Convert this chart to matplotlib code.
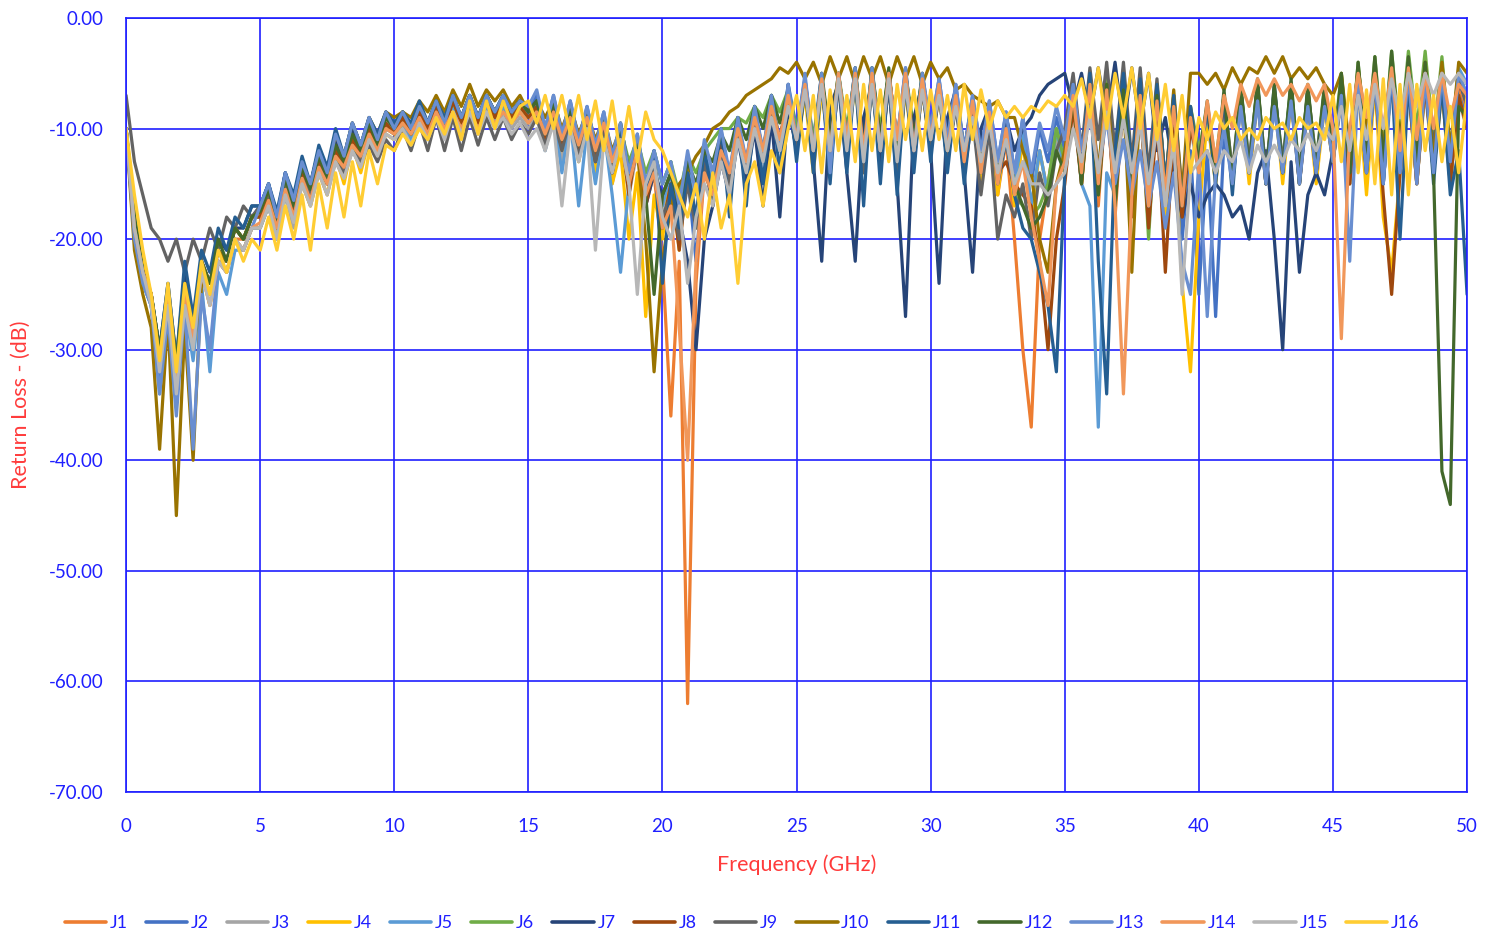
import numpy as np
import matplotlib
matplotlib.use("Agg")
import matplotlib.pyplot as plt
from matplotlib.ticker import FormatStrFormatter

plt.rcParams['font.family'] = ['Lato', 'DejaVu Sans']
plt.rcParams['axes.unicode_minus'] = False

# Return loss per port, sampled every 0.3125 GHz from 0 to 50 GHz (dB)
j1 = [-10, -19, -23, -25, -31, -25, -33, -24, -28, -23, -25, -22, -23, -20, -20, -18,
      -18, -16, -19, -15, -18, -14, -16, -13, -15, -12, -14, -11, -13, -10.5, -12, -10,
      -10.5, -9.5, -11, -9, -10.5, -8.5, -10, -8, -10, -8, -10, -8, -9.5, -8, -9.5, -8.5,
      -9.5, -8.5, -11, -8.5, -12, -8.5, -12.5, -9, -13, -10, -14, -11, -15, -12, -17, -14,
      -22, -36, -22, -62, -24, -14, -16, -12, -15, -10, -13, -8.5, -12, -7.5, -11, -7,
      -12, -6, -13, -5.5, -12, -6, -11, -5, -13, -5.5, -12, -5, -11, -5.5, -12, -6,
      -11, -6.5, -12, -7, -13, -8, -14, -9, -16, -11, -20, -30, -37, -20, -15, -10,
      -14, -7, -15, -6, -17, -6.5, -18, -7, -16, -7, -17, -6.5, -16, -8, -18, -9,
      -13, -8, -14, -7.5, -15, -7, -14, -6.5, -15, -7, -14, -6.5, -15, -7, -14, -7,
      -13, -7, -15, -6, -14, -5.5, -15, -5, -14, -5, -15, -5.5, -14, -5.5, -15, -6.5, -9]
j2 = [-10, -19, -24, -26, -33, -26, -35, -24, -30, -23, -25, -21, -22, -19, -20, -18,
      -17, -15, -18, -14, -17, -13, -15, -12, -14, -10.5, -12.5, -9.5, -11.5, -9, -11, -8.5,
      -10, -8.5, -10, -8, -9.5, -7.5, -9.5, -7, -9, -7, -9, -7, -8.5, -7, -8.5, -7.5,
      -8.5, -7, -10, -7, -10.5, -7.5, -11, -8, -11.5, -8.5, -13, -9.5, -14, -10.5, -15, -12,
      -15, -13, -20, -14, -22, -13, -17, -11, -15, -9, -14, -8, -13, -7, -12, -6,
      -10, -5.5, -11, -5, -13, -5, -11, -4.5, -13, -4.5, -12, -5, -11, -4.5, -12, -5,
      -10, -5.5, -11, -6, -12, -7, -12, -7.5, -13, -8.5, -14, -9, -15, -10, -13, -9,
      -12, -7, -13, -6, -14, -6, -15, -6.5, -14, -7, -15, -7.5, -17, -9, -20, -12,
      -25, -12, -27, -11, -14, -8, -13, -7.5, -14, -8, -13, -7.5, -14, -8, -13, -8,
      -12, -6.5, -14, -5.5, -13, -5.5, -14, -5, -13, -5, -14, -5.5, -13, -5.5, -14, -7, -9]
j3 = [-10, -19, -23, -26, -32, -26, -34, -25, -29, -23, -25, -22, -22, -20, -21, -19,
      -19, -17, -20, -16, -19, -15, -17, -14, -16, -13, -14.5, -12, -13.5, -11, -12.5, -10.5,
      -11, -10, -11.5, -9.5, -11, -9, -11, -8.5, -10.5, -8.5, -10.5, -8.5, -10, -8.5, -10, -9,
      -10, -9, -12, -9, -13, -9, -13, -9.5, -14, -10, -15, -11, -16, -12, -17, -13,
      -18, -15, -20, -14, -19, -13, -16, -12, -15, -10, -14, -9, -13, -8, -12, -7.5,
      -12, -6.5, -13, -6, -13, -6, -12, -5.5, -13, -6, -12, -5.5, -13, -6, -12, -6,
      -12, -7, -13, -7.5, -13, -8, -14, -9, -15, -10, -16, -11, -17, -12, -16, -11,
      -14, -8, -15, -7, -16, -7, -17, -7.5, -16, -8, -17, -8, -16, -9, -18, -10,
      -14, -9, -15, -8.5, -15, -8, -14, -7.5, -15, -8, -14, -7.5, -15, -8, -14, -8,
      -13, -7.5, -15, -6.5, -14, -6, -15, -6, -14, -6, -15, -6.5, -14, -6.5, -15, -7.5, -10]
j4 = [-10, -17, -22, -25, -30, -26, -33, -25, -29, -23, -26, -22, -23, -20, -21, -19,
      -19, -17, -20, -16, -18, -15, -17, -14, -16, -12.5, -15, -11.5, -14, -11, -12.5, -10.5,
      -11, -9.5, -11, -9, -10.5, -8.5, -10.5, -8, -10, -8, -10, -8, -9.5, -8, -9.5, -8.5,
      -9.5, -8.5, -11.5, -8.5, -12, -9, -13, -9, -14, -10, -15, -12, -20, -14, -27, -16,
      -20, -14, -21, -13, -19, -12, -16, -11, -15, -10, -13, -9, -12, -8, -11, -7.5,
      -12, -7, -14, -6.5, -13, -6, -12, -6, -14, -6, -13, -6, -14, -6.5, -13, -6.5,
      -12, -7, -13, -7.5, -14, -8, -15, -9, -16, -10, -17, -11, -18, -12, -16, -10,
      -14, -7, -15, -6.5, -16, -6, -17, -6.5, -16, -7, -18, -8, -19, -10, -24, -32,
      -18, -9, -15, -8, -14, -7.5, -15, -7, -14, -7, -15, -7.5, -14, -7.5, -15, -8,
      -13, -7, -15, -6, -16, -6, -18, -23, -14, -6, -15, -6, -14, -6.5, -15, -7, -10]
j5 = [-10, -20, -24, -26, -34, -27, -33, -26, -31, -24, -32, -23, -25, -21, -21, -19,
      -19, -17, -20, -16, -18, -14.5, -16.5, -13, -15, -12, -13.5, -11, -12.5, -10.5, -12, -10,
      -10.5, -9.5, -11, -9, -10.5, -8.5, -10, -8, -10, -8, -10, -8, -9.5, -8, -9.5, -8.5,
      -9.5, -8.5, -12, -8.5, -14, -9, -17, -10, -15, -10, -16, -23, -15, -11, -16, -13,
      -17, -14, -19, -13, -18, -12, -15, -11, -14, -9.5, -13, -8.5, -12, -7.5, -11, -7,
      -11, -6, -12, -5.5, -12, -5.5, -11, -5, -12, -5.5, -11, -5, -12, -5.5, -11, -5.5,
      -11, -6.5, -12, -7, -12, -8, -13, -8.5, -14, -9.5, -15, -10.5, -17, -12, -16, -10,
      -14, -7, -15, -17, -37, -14, -16, -6, -15, -6.5, -16, -7, -15, -7.5, -17, -8.5,
      -13, -8.5, -14, -8, -15, -7.5, -14, -7, -15, -7.5, -14, -7, -15, -7.5, -14, -7.5,
      -13, -6.5, -15, -6, -14, -5.5, -15, -5, -14, -5, -15, -5.5, -14, -5, -12, -4.5, -6]
j6 = [-10, -18, -23, -25, -30, -25, -32, -24, -29, -22, -24, -21, -22, -19, -20, -18,
      -18, -16, -19, -15, -17.5, -14, -16, -13, -14.5, -11.5, -13, -10.5, -12, -10, -11.5, -9.5,
      -10.5, -9, -10.5, -8.5, -10, -8, -10, -7.5, -9.5, -7.5, -9.5, -7.5, -9, -7.5, -9, -8,
      -9, -8, -11, -8, -11, -8, -12, -8.5, -12, -9, -13, -10, -13, -11, -14, -12,
      -15, -13, -16, -12.5, -14, -12, -11, -10, -10, -9, -9.5, -8, -9, -7, -8.5, -6.5,
      -10, -6, -11, -5.5, -11, -5, -10, -5, -11, -5, -10, -5, -11, -5, -10, -5.5,
      -10, -6, -11, -6.5, -12, -7.5, -13, -8.5, -14, -9.5, -16, -17, -18, -17, -15, -10,
      -13, -6.5, -14, -6, -15, -5.5, -16, -6, -15, -6.5, -20, -7, -16, -7.5, -17, -8,
      -12, -8, -13, -7, -14, -6.5, -13, -6, -14, -6.5, -13, -6, -14, -6.5, -13, -6,
      -12, -5, -13, -4, -12, -3.5, -12, -3, -11, -3, -10, -3, -11, -3.5, -12, -5, -7]
j7 = [-10, -19, -23, -25, -30, -24, -31, -23, -28, -22, -24, -20, -21, -19, -19, -17,
      -17, -15, -18, -14, -16.5, -13, -15, -12, -14, -11, -13, -10, -12, -9.5, -11, -9,
      -10, -8.5, -10, -8, -9.5, -7.5, -9.5, -7.5, -9, -7, -9, -7, -8.5, -7, -8.5, -7.5,
      -8.5, -7.5, -10.5, -7.5, -11, -8, -12, -8.5, -13, -9, -14, -10, -15, -12, -17, -14,
      -16, -14, -18, -22, -30, -20, -17, -13, -16, -11, -15, -10, -17, -9, -18, -8,
      -12, -6, -13, -22, -8, -6, -14, -22, -9, -6, -13, -6, -15, -27, -9, -6,
      -12, -24, -9, -6.5, -14, -23, -10, -8, -14, -9, -12, -10, -9, -7, -6, -5.5,
      -5, -8, -5, -9, -4.5, -9, -4, -10, -4.5, -10, -5, -12, -9, -14, -18, -15,
      -18, -16, -15, -16, -18, -17, -20, -14, -12, -20, -30, -13, -23, -16, -14, -16,
      -12, -6, -14, -5, -13, -4.5, -13, -4, -12, -4, -13, -4.5, -12, -4.5, -13, -5.5, -8]
j8 = [-10, -19, -23, -25, -31, -25, -32, -24, -29, -22, -24, -21, -22, -19, -20, -18,
      -18, -16, -19, -15, -17.5, -14, -16, -13, -15, -12, -13.5, -11, -12.5, -10, -12, -9.5,
      -10.5, -9, -10.5, -8.5, -10, -8, -10, -7.5, -9.5, -7.5, -9.5, -7.5, -9, -7.5, -9, -8,
      -9, -8, -11, -8, -11.5, -8, -12, -8.5, -12.5, -9, -14, -10, -16, -11, -17, -13,
      -19, -15, -21, -14, -18, -13, -16, -11, -15, -10, -13, -9, -12, -8, -11, -7,
      -11, -6, -12, -5.5, -12, -5.5, -11, -5, -13, -5, -11, -5, -12, -5, -11, -5.5,
      -11, -6, -12, -7, -12, -7.5, -13, -8.5, -14, -13, -15, -16, -17, -22, -30, -20,
      -15, -8, -15, -7, -16, -7, -17, -7.5, -18, -8, -19, -9, -23, -10, -18, -10,
      -13, -8, -14, -7.5, -15, -7, -14, -7, -15, -7, -14, -7, -15, -7.5, -14, -7.5,
      -13, -7, -15, -6, -14, -5.5, -16, -25, -14, -6, -15, -6, -14, -6, -15, -7, -10]
j9 = [-7, -13, -16, -19, -20, -22, -20, -23, -20, -22, -19, -21, -18, -19, -17, -18,
      -17, -16, -18, -15, -17, -14.5, -16, -13.5, -15, -13, -14, -12, -13, -11.5, -13, -11,
      -12, -10, -12, -9.5, -12, -9, -12, -9, -12, -9, -11.5, -9, -11, -9, -11, -9.5,
      -10.5, -9, -11.5, -9, -12, -9, -12.5, -9.5, -13, -10, -14, -10.5, -15, -11, -16, -13,
      -18, -16, -20, -15, -19, -13, -17, -12, -15, -10, -14, -9, -12, -8, -11, -7.5,
      -12, -6.5, -12, -6, -13, -6, -12, -5.5, -14, -6, -12, -6, -14, -6, -13, -6.5,
      -12, -7, -13, -8, -14, -9, -16, -10, -20, -16, -18, -15, -20, -14, -17, -12,
      -10, -5, -12, -4.5, -11, -4, -12, -4, -13, -4.5, -14, -5.5, -15, -7, -16, -8,
      -13, -8, -14, -7, -14, -6.5, -13, -6, -14, -6.5, -13, -6.5, -14, -6.5, -13, -6.5,
      -12, -6, -13, -5, -13, -4.5, -13, -4, -12, -4, -12, -4.5, -12, -4.5, -13, -5.5, -8]
j10 = [-10, -21, -25, -28, -39, -27, -45, -28, -40, -24, -24, -21, -22, -19, -20, -18,
       -17.5, -15.5, -18, -14.5, -16.5, -13, -15, -12, -14, -10.5, -12.5, -9.5, -11.5, -9, -10.5, -8.5,
       -9, -8.5, -9, -7.5, -8.5, -7, -8.5, -6.5, -8, -6, -8, -6.5, -7.5, -6.5, -8, -7,
       -8.5, -7.5, -9, -7.5, -10, -8, -10.5, -8.5, -11, -9, -12, -10, -14, -12, -20, -32,
       -22, -17, -15, -14, -12.5, -11.5, -10, -9.5, -8.5, -8, -7, -6.5, -6, -5.5, -4.5, -5,
       -4, -5.5, -4, -6, -3.5, -5.5, -3.5, -6, -3.5, -5.5, -3.5, -6, -3.5, -5.5, -3.5, -6,
       -4, -5.5, -4.5, -6.5, -6, -7, -7.5, -8, -7.5, -9, -9, -12, -14, -20, -23, -15,
       -12, -7, -13, -6.5, -14, -6, -15, -7, -23, -7, -17, -6, -15, -6.5, -16, -5,
       -5, -6, -5, -6.5, -4.5, -6, -4.5, -5, -3.5, -5, -3.5, -5.5, -4.5, -5.5, -4.5, -6,
       -7, -5, -12, -4.5, -10, -5, -12, -4.5, -11, -4.5, -12, -4, -13, -4, -12, -4, -5]
j11 = [-10, -18, -23, -25, -30, -24, -31, -22, -27, -21, -23, -19, -21, -18, -19, -17,
       -17, -15, -17.5, -14, -16, -12.5, -15, -11.5, -13.5, -10, -12.5, -9.5, -11.5, -9, -10.5, -8.5,
       -9.5, -8.5, -9.5, -7.5, -9.5, -7.5, -9, -7, -9, -7, -9, -7, -8.5, -7, -8.5, -7.5,
       -8.5, -7.5, -10.5, -7.5, -11, -8, -11.5, -8.5, -12, -9, -13, -10, -14, -11, -16, -12,
       -24, -15, -19, -14, -18, -12, -16, -10, -18, -9, -17, -8, -15, -7, -14, -6,
       -13, -6, -14, -5.5, -15, -5, -14, -5, -17, -5, -15, -5, -16, -5.5, -14, -5.5,
       -13, -6, -14, -7, -15, -8, -14, -9, -15, -11, -16, -19, -20, -23, -26, -32,
       -14, -6, -13, -5, -22, -34, -12, -5, -14, -5.5, -16, -6, -15, -7, -17, -8,
       -14, -8, -15, -7, -16, -6.5, -14, -6, -15, -6, -14, -6, -15, -6.5, -14, -6.5,
       -13, -6, -14, -5, -14, -5, -15, -5, -20, -6, -14, -5, -15, -6, -16, -12, -25]
j12 = [-10, -18, -23, -25, -30, -25, -31, -24, -28, -22, -24, -20, -22, -19, -20, -18,
       -17.5, -15.5, -18.5, -14.5, -17, -13.5, -15.5, -12.5, -14.5, -11.5, -13, -10.5, -12, -9.5, -11.5, -9,
       -10, -8.5, -10, -8, -9.5, -7.5, -9.5, -7, -9, -7, -9, -7, -8.5, -7, -8.5, -7.5,
       -8.5, -7.5, -10.5, -7.5, -11, -8, -11.5, -8.5, -12, -9, -13, -9.5, -14, -11, -16, -25,
       -16, -14, -17, -13, -15, -12, -13, -10.5, -12, -9, -11, -8, -10, -7, -9.5, -6.5,
       -11, -5.5, -12, -5, -11, -5, -11, -4.5, -12, -4.5, -11, -4.5, -12, -5, -11, -5,
       -11, -6, -12, -6.5, -12, -7.5, -13, -8.5, -14, -10, -15, -17, -19, -18, -16, -12,
       -14, -7, -15, -6, -16, -6, -17, -6.5, -16, -7, -17, -7, -16, -8, -17, -9,
       -13, -7.5, -14, -6.5, -15, -6, -14, -5.5, -15, -6, -14, -5.5, -15, -6, -14, -6,
       -13, -5, -14, -4, -13, -3.5, -13, -3, -12, -3.5, -13, -4, -14, -41, -44, -8, -9]
j13 = [-10, -20, -24, -26, -34, -27, -36, -26, -39, -25, -30, -22, -23, -20, -21, -19,
       -17, -15, -18, -14, -16.5, -13, -15, -12, -14, -10.5, -12.5, -9.5, -11.5, -9, -11, -8.5,
       -10, -8.5, -10, -8, -9.5, -7.5, -9.5, -7, -9, -7, -9, -7, -8.5, -7, -8.5, -7.5,
       -8, -6.5, -10, -7, -10.5, -7.5, -11, -8, -11.5, -8.5, -12.5, -9.5, -14, -10.5, -15, -12,
       -15, -13, -17, -12, -16, -11, -14, -10, -14, -9, -13, -8, -12, -7, -12, -6,
       -11, -5, -12, -5, -14, -5, -11, -4.5, -13, -4.5, -12, -5, -11, -4.5, -12, -5,
       -10, -5.5, -11, -6, -12, -7, -12, -7.5, -13, -8.5, -14, -9, -14, -9.5, -12, -8,
       -11, -6, -12, -8, -14, -9, -15, -11, -16, -12, -17, -13, -19, -14, -22, -25,
       -13, -27, -14, -10, -15, -8, -14, -7.5, -15, -8, -14, -7.5, -15, -8, -14, -8,
       -13, -7, -22, -6, -14, -5.5, -15, -5, -14, -5, -15, -5.5, -14, -5, -13, -5, -7]
j14 = [-10, -19, -23, -25, -31, -25, -33, -25, -29, -23, -26, -22, -23, -20, -21, -19,
       -18.5, -16.5, -19, -15.5, -18, -14.5, -16.5, -13.5, -15, -12.5, -13.5, -11.5, -12.5, -10.5, -12, -10,
       -10.5, -9.5, -10.5, -9, -10.5, -8.5, -10, -8.5, -10, -8.5, -10, -8.5, -9.5, -8.5, -9.5, -8.5,
       -9.5, -8.5, -10.5, -8.5, -11, -9, -11.5, -9, -12, -9.5, -13, -11, -15, -12, -16, -14,
       -19, -17, -28, -40, -22, -14, -16, -12, -14, -10, -13, -9, -12, -8, -11, -7,
       -11, -6, -12, -5.5, -12, -5, -11, -5, -12, -5, -12, -5, -11, -5, -12, -5.5,
       -11, -6, -12, -7, -13, -7.5, -14, -8.5, -15, -10, -16, -13, -18, -22, -26, -15,
       -13, -7, -14, -6, -15, -6.5, -17, -34, -16, -7, -17, -7.5, -16, -8, -17, -9,
       -14, -7.5, -13, -7, -10, -6, -8, -5.5, -7, -5.5, -7, -6, -7.5, -6, -7.5, -6,
       -10, -29, -10, -5, -9, -5, -10, -4.5, -12, -4.5, -11, -5, -10, -5, -9, -6, -7]
j15 = [-10, -19, -23, -26, -32, -26, -34, -26, -30, -23, -26, -22, -23, -20, -21, -19,
       -19, -17, -20, -16, -18.5, -15, -17, -14, -16, -13, -14.5, -12, -13.5, -11, -12.5, -10.5,
       -11, -10, -11.5, -9.5, -11, -9, -11, -8.5, -10.5, -8.5, -10.5, -8.5, -10, -9, -10.5, -9.5,
       -11, -10, -12, -9.5, -17, -10, -13, -10, -21, -11, -14, -11, -15, -25, -15, -13,
       -18, -20, -17, -24, -18, -15, -17, -13, -16, -11, -14, -10, -13, -9, -12, -8,
       -11, -6.5, -12, -6, -12, -5.5, -12, -5.5, -13, -6, -12, -5.5, -13, -6, -12, -6.5,
       -11, -7, -12, -8, -12, -9, -13, -9.5, -14, -11, -15, -13, -15, -15, -16, -15,
       -14, -10, -13, -9, -14, -8.5, -14, -9, -14, -9.5, -15, -10, -17, -11, -25, -14,
       -13, -12, -14, -12, -13, -11, -14, -11.5, -13, -11.5, -13, -11, -12, -10.5, -12, -10,
       -11, -8, -12, -7, -11, -6, -10, -5.5, -9, -5, -8, -5, -7, -5, -6, -5, -6]
j16 = [-10, -16, -21, -25, -31, -24, -32, -24, -28, -22, -25, -21, -23, -20, -22, -20,
       -21, -18, -21, -17, -20, -16, -21, -15, -19, -14, -18, -13, -17, -12, -15, -11.5,
       -12, -10.5, -11.5, -10, -11, -9, -10.5, -8.5, -11, -7.5, -10.5, -7.5, -10, -7.5, -9.5, -8,
       -7.5, -9.5, -7, -10, -7, -10.5, -7, -11, -7.5, -12, -7.5, -12.5, -8, -13, -8.5, -11,
       -12, -14, -16, -18, -15, -20, -14, -19, -16, -24, -15, -13, -17, -12, -14, -10,
       -7, -12, -7, -14, -6.5, -12, -7, -13, -6, -12, -6.5, -13, -6, -11, -6.5, -12,
       -6.5, -11, -7, -12, -6, -11, -6.5, -10, -7.5, -9, -8, -9, -8, -8.5, -7.5, -8,
       -7, -8, -5.5, -9, -4.5, -10, -5, -9, -4.5, -10, -5, -11, -6, -12, -7, -14,
       -9, -11, -8.5, -10, -9, -11, -10, -11, -9, -10, -9.5, -11, -9, -10, -9.5, -11,
       -7, -13, -6, -14, -6.5, -15, -5.5, -16, -6, -16, -6, -12, -7, -13, -8, -14, -7]

series = [j1, j2, j3, j4, j5, j6, j7, j8, j9, j10, j11, j12, j13, j14, j15, j16]
labels = ['J%d' % (i + 1) for i in range(16)]
colors = ['#ED7D31', '#4472C4', '#A5A5A5', '#FFC000', '#5B9BD5', '#70AD47',
          '#264478', '#9E480E', '#636363', '#997300', '#255E91', '#43682B',
          '#698ED0', '#F1975A', '#B7B7B7', '#FFCD33']

BLUE = '#1F1FFF'
RED = '#FF3B3B'

fig = plt.figure(figsize=(14.99, 9.41), dpi=100)
ax = fig.add_axes([0.0841, 0.1583, 0.8946, 0.8226])

for vals, lab, col in zip(series, labels, colors):
    freq = np.linspace(0, 50, len(vals))
    ax.plot(freq, vals, color=col, linewidth=2.3, label=lab,
            solid_joinstyle='round', solid_capstyle='round')

ax.set_xlim(0, 50)
ax.set_ylim(-70, 0)
ax.set_xticks(np.arange(0, 51, 5))
ax.set_yticks(np.arange(-70, 1, 10))
ax.yaxis.set_major_formatter(FormatStrFormatter('%.2f'))
ax.grid(True, color=BLUE, linewidth=1.2)
ax.set_axisbelow(True)
for sp in ax.spines.values():
    sp.set_color(BLUE)
    sp.set_linewidth(1.2)
ax.tick_params(axis='both', length=0, labelsize=13.5, labelcolor=BLUE)
ax.tick_params(axis='x', pad=19)
ax.tick_params(axis='y', pad=16)

ax.set_xlabel('Frequency (GHz)', color=RED, fontsize=15.5, labelpad=14)
ax.set_ylabel('Return Loss - (dB)', color=RED, fontsize=15.5, labelpad=13)

leg = fig.legend(loc='center', bbox_to_anchor=(0.495, 0.019), ncol=16, frameon=False,
                 fontsize=13, handlelength=2.3, handletextpad=0.2, columnspacing=1.0)
for line in leg.get_lines():
    line.set_linewidth(2.6)
for t in leg.get_texts():
    t.set_color(BLUE)

fig.savefig('out.png', dpi=100, facecolor='white')
